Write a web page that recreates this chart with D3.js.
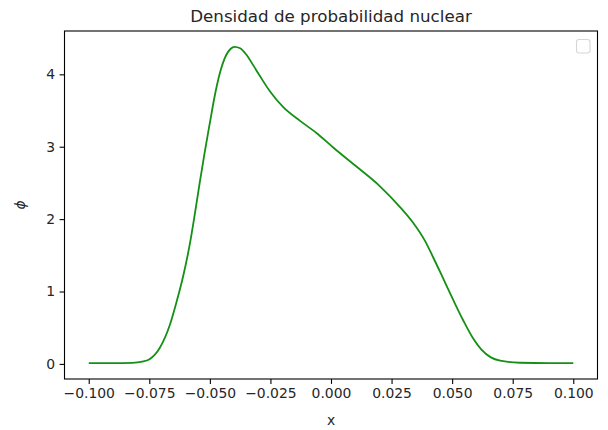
<!DOCTYPE html>
<html>
<head>
<meta charset="utf-8">
<script src="https://cdn.jsdelivr.net/npm/d3@7/dist/d3.min.js"></script>
<style>
  html, body { margin: 0; padding: 0; background: #ffffff; }
  svg { display: block; font-family: "DejaVu Sans", sans-serif; }
</style>
</head>
<body>
<svg id="chart" width="608" height="430"></svg>
<script>
// Nuclear probability density sampled along x
const xValues = [-0.100, -0.090, -0.082, -0.0780, -0.0749, -0.0707, -0.0666, -0.0638, -0.0611,
  -0.0583, -0.0563, -0.0542, -0.0521, -0.0500, -0.0480, -0.0460, -0.0432, -0.0415, -0.0398,
  -0.0375, -0.0349, -0.0320, -0.0294, -0.0253, -0.0198, -0.0129, -0.0060, 0.0009, 0.010,
  0.020, 0.0284, 0.0339, 0.0388, 0.0422, 0.0463, 0.0505, 0.0546, 0.0587, 0.0620, 0.0660,
  0.0698, 0.078, 0.090, 0.100];
const phiValues = [0.01, 0.01, 0.015, 0.03, 0.065, 0.22, 0.53, 0.85, 1.2,
  1.65, 2.05, 2.5, 2.93, 3.33, 3.7, 4.0, 4.27, 4.35, 4.38,
  4.36, 4.27, 4.12, 3.98, 3.77, 3.55, 3.36, 3.19, 2.99, 2.74,
  2.46, 2.17, 1.95, 1.70, 1.47, 1.18, 0.88, 0.60, 0.35, 0.2, 0.09,
  0.045, 0.016, 0.01, 0.01];
const xTicks = [-0.100, -0.075, -0.050, -0.025, 0.000, 0.025, 0.050, 0.075, 0.100];
const yTicks = [0, 1, 2, 3, 4];

const titleText = "Densidad de probabilidad nuclear";
const xLabel = "x";
const yLabel = "\u03D5";

const svg = d3.select("#chart");
const plot = { left: 64.5, right: 597.5, top: 31, bottom: 379 };

// axis limits with a 5% margin around the data, as an autoscaled plot would
const pad = (lo, hi) => { const m = (hi - lo) * 0.05; return [lo - m, hi + m]; };
const xExt = d3.extent(xValues);
const yExt = d3.extent(phiValues);

const x = d3.scaleLinear().domain(pad(xExt[0], xExt[1])).range([plot.left, plot.right]);
const y = d3.scaleLinear().domain(pad(yExt[0], yExt[1])).range([plot.bottom, plot.top]);

const points = xValues.map((v, i) => [v, phiValues[i]]);

const line = d3.line()
  .x(d => x(d[0]))
  .y(d => y(d[1]))
  .curve(d3.curveMonotoneX);

svg.append("path")
  .datum(points)
  .attr("fill", "none")
  .attr("stroke", "#149014")
  .attr("stroke-width", 1.8)
  .attr("stroke-linejoin", "round")
  .attr("d", line);

// axes
const fmt = d3.format(".3f");
const minus = s => s.replace("-", "\u2212");

const xAxis = svg.append("g")
  .attr("transform", `translate(0,${plot.bottom})`)
  .call(d3.axisBottom(x).tickValues(xTicks).tickSize(4.9).tickPadding(4.5)
    .tickFormat(d => minus(fmt(d))));

const yAxis = svg.append("g")
  .attr("transform", `translate(${plot.left},0)`)
  .call(d3.axisLeft(y).tickValues(yTicks).tickSize(4.9).tickPadding(4.5)
    .tickFormat(d3.format("d")));

[xAxis, yAxis].forEach(g => {
  g.select(".domain").remove();
  g.selectAll(".tick line").attr("stroke", "#000").attr("stroke-width", 1.1);
  g.selectAll(".tick text")
    .attr("fill", "#262626")
    .style("font-size", "13.9px")
    .style("font-family", "'DejaVu Sans', sans-serif");
});

// frame around the plotting area
svg.append("rect")
  .attr("x", plot.left)
  .attr("y", plot.top)
  .attr("width", plot.right - plot.left)
  .attr("height", plot.bottom - plot.top)
  .attr("fill", "none")
  .attr("stroke", "#000")
  .attr("stroke-width", 1.1);

// empty legend box
svg.append("rect")
  .attr("x", 576.5)
  .attr("y", 39.5)
  .attr("width", 13.5)
  .attr("height", 13.5)
  .attr("rx", 2.5)
  .attr("fill", "#fff")
  .attr("stroke", "#d6d6d6")
  .attr("stroke-width", 1.1);

// title and labels
svg.append("text")
  .attr("x", (plot.left + plot.right) / 2)
  .attr("y", 22)
  .attr("text-anchor", "middle")
  .attr("fill", "#262626")
  .style("font-size", "16.7px")
  .text(titleText);

svg.append("text")
  .attr("x", (plot.left + plot.right) / 2)
  .attr("y", 425)
  .attr("text-anchor", "middle")
  .attr("fill", "#262626")
  .style("font-size", "13.9px")
  .text(xLabel);

svg.append("text")
  .attr("transform", `translate(25,${(plot.top + plot.bottom) / 2}) rotate(-90)`)
  .attr("text-anchor", "middle")
  .attr("fill", "#262626")
  .style("font-size", "13.9px")
  .style("font-style", "italic")
  .text(yLabel);
</script>
</body>
</html>
